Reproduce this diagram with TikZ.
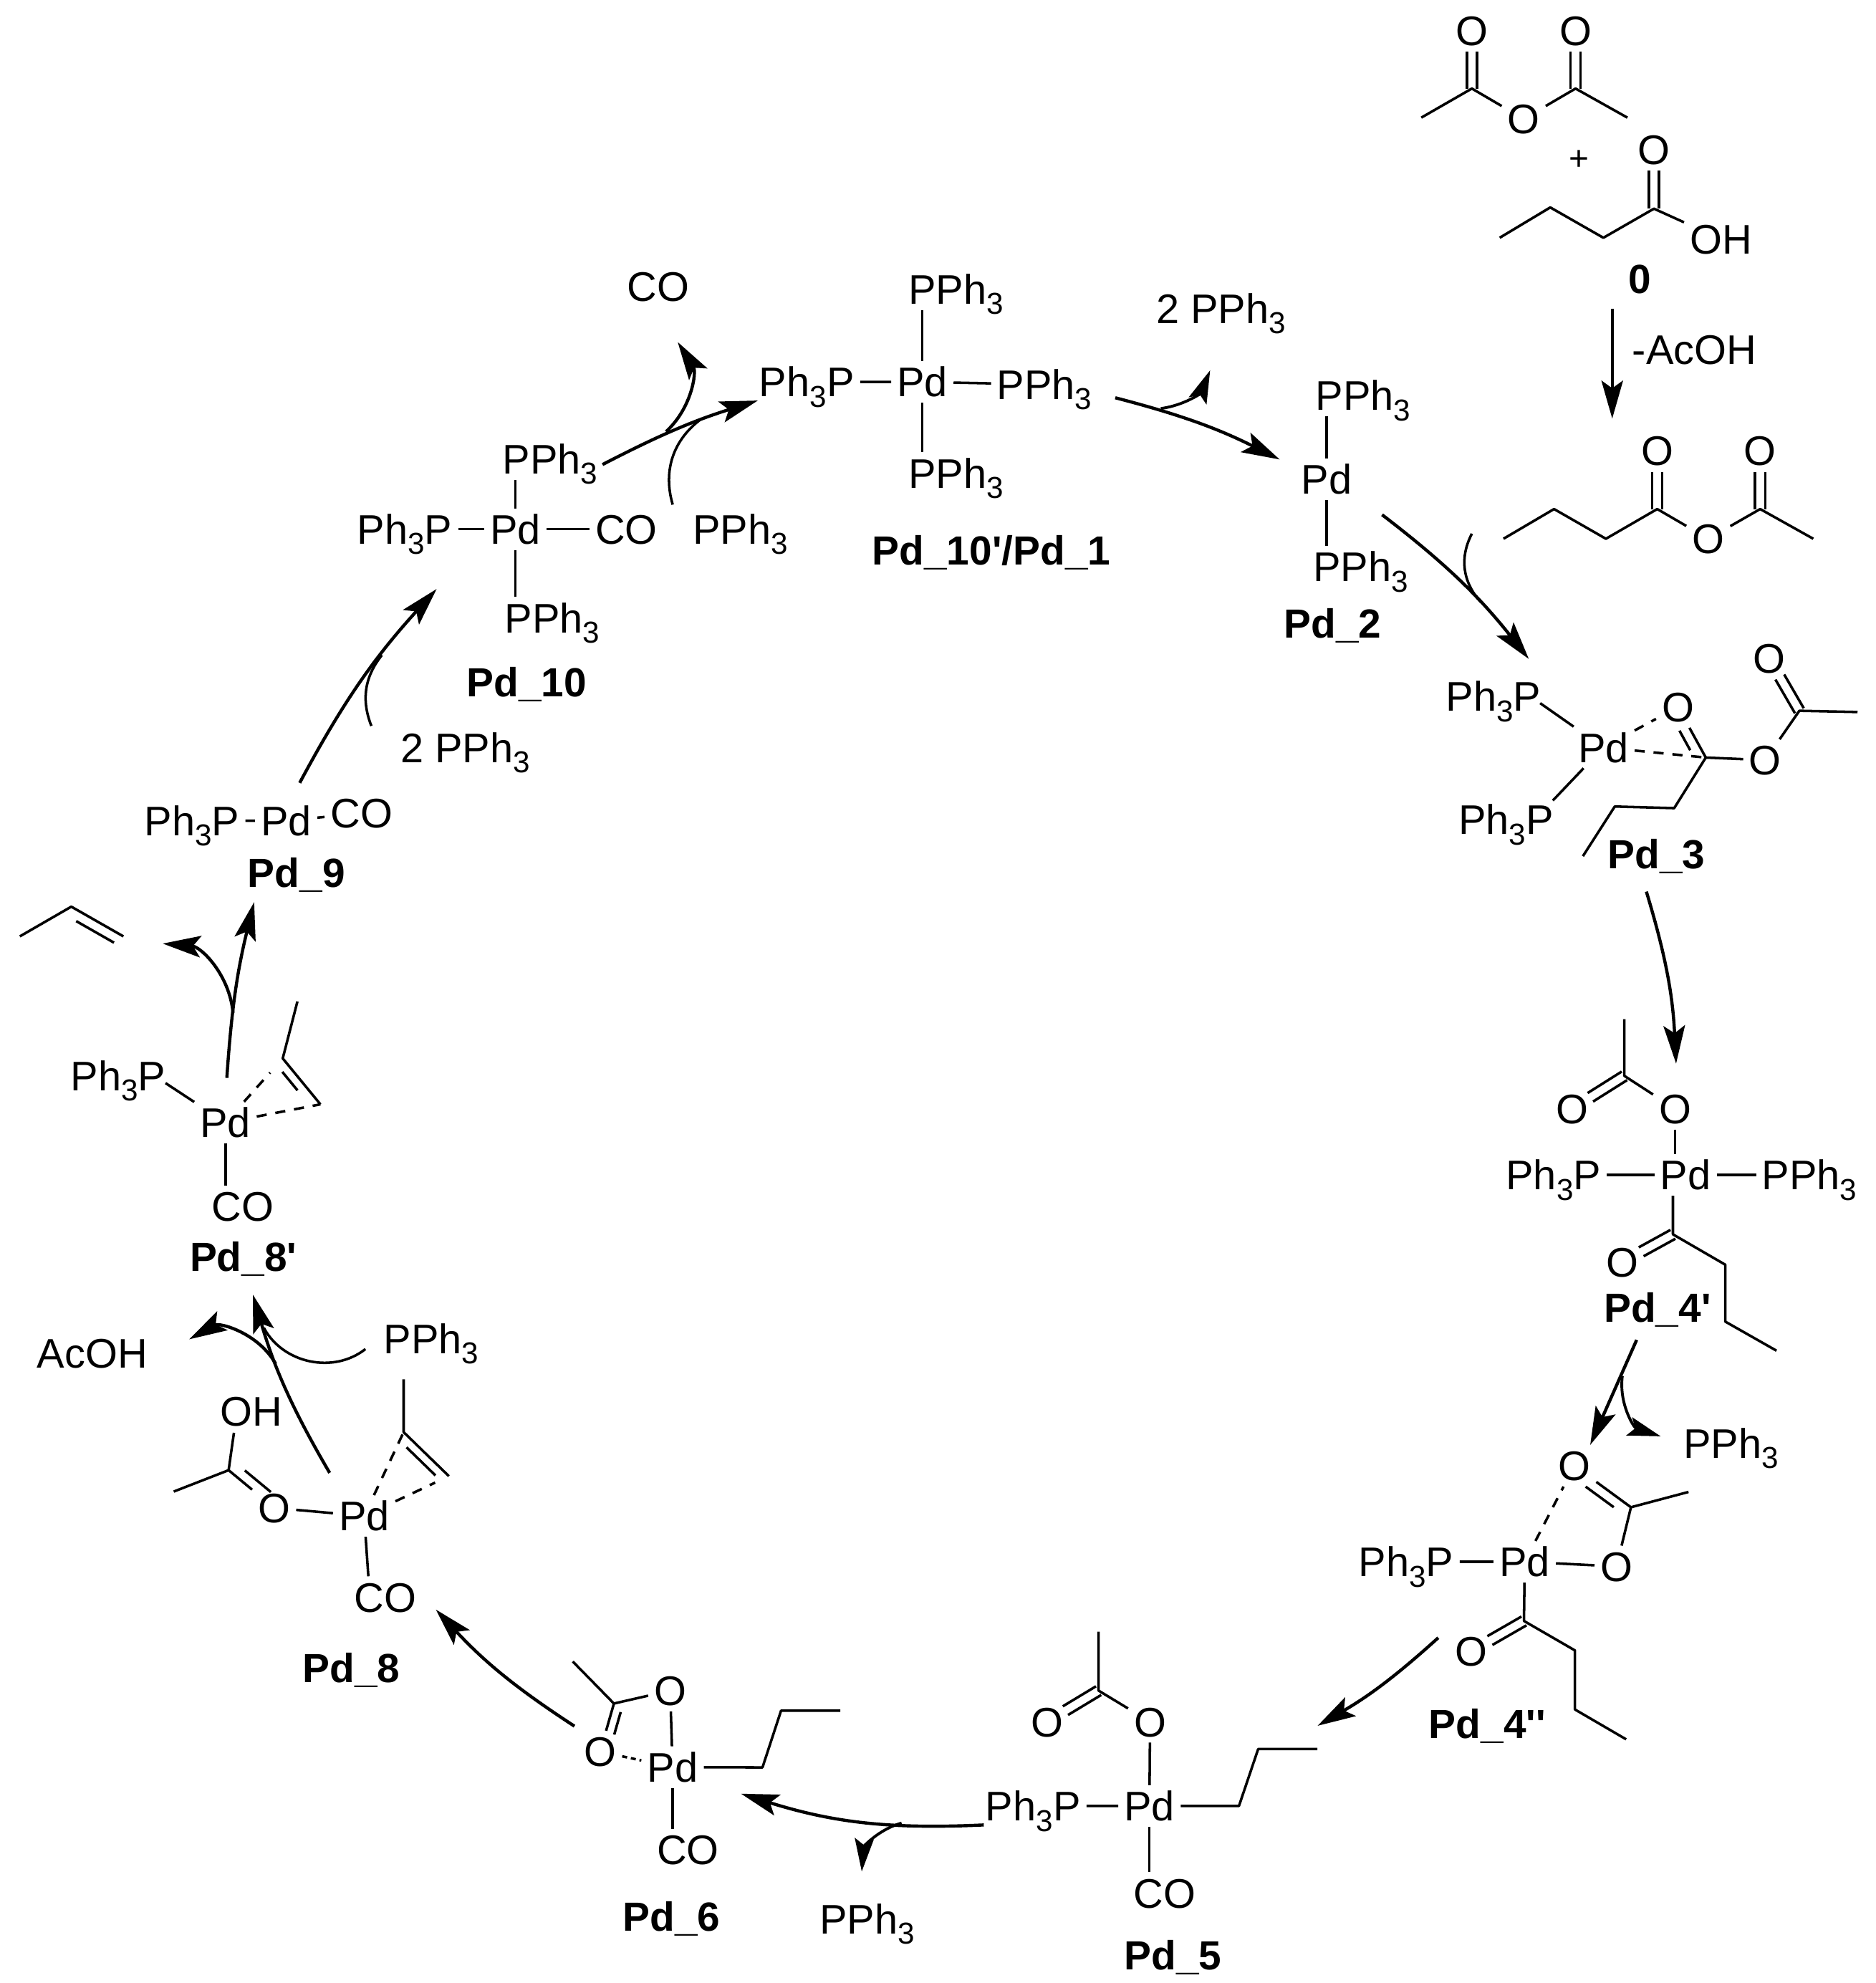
\documentclass[tikz,border=0pt]{standalone}
\usepackage{fontspec}
\setmainfont{Liberation Sans}
\usetikzlibrary{arrows.meta,calc}
\newcommand{\lowthree}{\raisebox{-0.25em}{\fontsize{6.8}{6.8}\selectfont 3}}
\newcommand{\phend}{PPh\lowthree}
\newcommand{\phstart}{Ph\lowthree P}
\newcommand{\prm}{\textquotesingle}
\newcommand{\dbond}[4][]{\draw[bond,#1] ($(#2)!#4!90:(#3)$) -- ($(#3)!#4!-90:(#2)$);}
\newcommand{\dbl}[2]{\dbond[shorten >=0.17cm]{#1}{#2}{0.04cm}\dbond[shorten >=0.17cm]{#1}{#2}{-0.04cm}}
\tikzset{
  atom/.style={font=\fontsize{9.3}{9.3}\selectfont,inner sep=0.04cm,text height=0.235cm,text depth=0pt},
  tag/.style={atom,font=\fontsize{9.15}{9.15}\selectfont\bfseries},
  bond/.style={line width=0.02cm,line join=round},
  dashb/.style={bond,dash pattern=on 0.08cm off 0.07cm},
  arrm/.style={line width=0.025cm,-{Stealth[length=0.3cm,width=0.17cm,inset=0.06cm]}},
  arrb/.style={line width=0.022cm,-{Stealth[length=0.26cm,width=0.15cm,inset=0.05cm]}},
  hook/.style={line width=0.02cm}
}
\begin{document}
\begin{tikzpicture}[x=0.01cm,y=-0.01cm]
  \useasboundingbox (0,0) rectangle (1483.6,1568);
  \foreach \n/\x/\y in {oa/1164/24,ob/1246/24,oc/1205/94,od/1308/118,oe/1310.6/356,of/1392/356,og/1351/426,
    o3a/1327/559,o3b/1396/601,o3c/1399/520.6,o4a/1243.3/876.7,o4b/1324.7/876.7,o4c/1283/998,
    oqa/1245/1159,oqb/1278.4/1238.6,oqc/1163.5/1305.7,o5a/828/1361.4,o5b/909.5/1361.4,
    o6a/530/1336.8,o6b/474.6/1385,o8/216.8/1192.3} {
    \node[atom] (\n) at (\x,\y) {O};
  }
  \foreach \n/\x/\y in {pda/729.4/302,pdb/1049/379,pdc/1268/591,pdd/1333/929,pde/1205.8/1234.9,pdf/909/1428,
    pdg/531.9/1397.3,pdh/288/1198.7,pdi/178.3/887.6,pdj/226.3/649,pdk/407.5/418.4} {
    \node[atom] (\n) at (\x,\y) {Pd};
  }
  \foreach \n/\x/\y in {pa1/756/228.7,pa2/756/374,pa3/826/304,pb1/1078/312.7,pb2/1076/448,pd1/1431/929,
    pk1/435/362.8,pk2/436.7/488.5,fr1/585.6/418.4,fr2/1369/1141,fr3/685.8/1517.4,fr4/341/1058.4} {
    \node[atom] (\n) at (\x,\y) {\phend};
  }
  \foreach \n/\x/\y in {qa/638/302,qc1/1181/550.5,qc2/1191/648,qd/1228.5/929,qe/1112.1/1234.9,qf/817/1428,
    qi/93.5/850.5,qj/151.8/649,qk/320/418.4} {
    \node[atom] (\n) at (\x,\y) {\phstart};
  }
  \foreach \n/\x/\y in {cof/921/1496.8,cog/544/1462.4,coh/304.9/1262.8,coi/191.9/954,coj/285.9/643,cok/495.3/418.4,cox/520.6/226.7} {
    \node[atom] (\n) at (\x,\y) {CO};
  }
  \node[atom] (oha) at (1361,189) {OH};
  \node[atom] (ohb) at (198.6,1116) {OH};
  \node[atom] (aca) at (1340,276) {-AcOH};
  \node[atom] (acb) at (73,1070) {AcOH};
  \node[atom] (twa) at (965.7,243.8) {2 \phend};
  \node[atom] (twb) at (368,591) {2 \phend};
  \node[atom,font=\fontsize{7.7}{7.7}\selectfont] (plus) at (1249,123) {+};
  \foreach \n/\x/\y/\t in {t0/1297/220/0,t1/784/435/{Pd\_10\prm/Pd\_1},t2/1054/492.7/Pd\_2,t3/1310/675/Pd\_3,
    t4a/1310.8/1033.7/Pd\_4\prm,t4b/1176.2/1362.6/Pd\_4\prm\prm,t5/927.7/1546/Pd\_5,t6/531/1515.3/Pd\_6,
    t8a/277.8/1318.7/Pd\_8,t8b/192.4/993.3/Pd\_8\prm,t9/234.4/689.8/Pd\_9,t10/416.5/539/Pd\_10} {
    \node[tag] (\n) at (\x,\y) {\t};
  }
  \foreach \n/\x/\y in {ma/1124/93,ca/1164/70,cb/1246/70,mb/1287/93,ba/1186/188,bb/1226/164,bc/1268/188,bd/1308/165,
    ea/1189/426,eb/1229/402.5,ec/1270/426,ed/1310.6/402.5,ee/1392/402.5,ef/1434/426,
    c3a/1349/599,c3b/1324/639,c3c/1277/637.7,c3d/1251.8/677,c3e/1423/562,c3f/1469/563,e3a/1218/556,e3b/1228/633,
    c4a/1284.6/805.8,c4b/1284.6/850.7,c4c/1323/976,c4d/1364.4/1000,c4e/1364.4/1045,c4f/1404.9/1068,
    cqa/1289.8/1191.8,cqb/1335.3/1179.7,cqc/1205.2/1281.7,cqd/1245.5/1305,cqe/1245.5/1351.7,cqf/1286/1375.3,
    c5a/868.8/1290.2,c5b/868.8/1336.8,c5c/979.8/1428,c5d/995/1383,c5e/1041.8/1383,
    c6a/453/1313.8,c6b/485.5/1347,c6c/603/1397.5,c6d/617.7/1352.6,c6e/664.6/1352.6,
    c8a/137.4/1179.4,c8b/180.8/1162.5,c8c/319.2/1090.6,c8d/319.2/1132.4,c8e/355/1167.2,e8a/291.3/1246.4,e8b/185/1132.9,
    c9a/235.2/791.9,c9b/223.6/836.9,c9c/253.4/873.2,e9a/130.9/856.4,ga/15.7/740.4,gb/56.4/716.9,gc/97.6/740.4} {
    \coordinate (\n) at (\x,\y);
  }
  \draw[bond] (ma) -- (ca) -- (oc) -- (cb) -- (mb);
  \dbl{ca}{oa}
  \dbl{cb}{ob}
  \draw[bond] (ba) -- (bb) -- (bc) -- (bd) -- (oha);
  \dbl{bd}{od}
  \draw[bond] (ea) -- (eb) -- (ec) -- (ed) -- (og) -- (ee) -- (ef);
  \dbl{ed}{oe}
  \dbl{ee}{of}
  \draw[bond] (pda) -- (pda |- pa1.south);
  \draw[bond] (pda) -- (pda |- pa2.north);
  \draw[bond] (qa) -- (pda) -- (pa3);
  \draw[bond] (pdb) -- (pdb |- pb1.south);
  \draw[bond] (pdb) -- (pdb |- pb2.north);
  \draw[bond] (e3a) -- (pdc) -- (e3b);
  \draw[dashb] (pdc) -- (o3a);
  \draw[dashb] (pdc) -- (c3a);
  \draw[bond] (o3a) -- (c3a) -- (o3b) -- (c3e) -- (c3f);
  \draw[bond] (c3a) -- (c3b) -- (c3c) -- (c3d);
  \dbond[shorten <=0.11cm,shorten >=0.17cm]{c3a}{o3a}{0.08cm}
  \dbl{c3e}{o3c}
  \draw[bond] (c4a) -- (c4b) -- (o4b);
  \dbl{c4b}{o4a}
  \draw[bond] (o4b) -- (o4b |- pdd.north);
  \draw[bond] (qd) -- (pdd) -- (pd1);
  \draw[bond] (pdd.south -| c4c) -- (c4c) -- (c4d) -- (c4e) -- (c4f);
  \dbl{c4c}{o4c}
  \draw[dashb] (pde) -- (oqa);
  \draw[bond] (qe) -- (pde) -- (oqb) -- (cqa) -- (oqa);
  \draw[bond] (cqa) -- (cqb);
  \dbond[shorten <=0.11cm,shorten >=0.17cm]{cqa}{oqa}{0.08cm}
  \draw[bond] (pde) -- (cqc) -- (cqd) -- (cqe) -- (cqf);
  \dbl{cqc}{oqc}
  \draw[bond] (c5a) -- (c5b) -- (o5b) -- (pdf);
  \dbl{c5b}{o5a}
  \draw[bond] (qf) -- (pdf) -- (c5c) -- (c5d) -- (c5e);
  \draw[bond] (pdf) -- (pdf |- cof.north);
  \draw[bond] (c6a) -- (c6b) -- (o6a) -- (pdg) -- (c6c) -- (c6d) -- (c6e);
  \draw[bond] (c6b) -- (o6b);
  \dbond[shorten <=0.05cm,shorten >=0.16cm]{c6b}{o6b}{0.07cm}
  \draw[dashb,dash pattern=on 0.04cm off 0.03cm] (o6b) -- (pdg);
  \draw[bond] (pdg) -- (pdg |- cog.north);
  \draw[bond] (c8a) -- (c8b) -- (o8) -- (pdh) -- (e8a);
  \draw[bond] (c8b) -- (e8b);
  \dbond[shorten <=0.1cm,shorten >=0.1cm]{c8b}{o8}{0.08cm}
  \draw[bond] (c8c) -- (c8d) -- (c8e);
  \dbond[shorten <=0.1cm,shorten >=0.08cm]{c8d}{c8e}{-0.07cm}
  \draw[dashb] (pdh) -- (c8d);
  \draw[dashb,shorten >=0.12cm] (pdh) -- (c8e);
  \draw[bond] (e9a) -- (pdi);
  \draw[bond] (pdi) -- (pdi |- coi.north);
  \draw[bond] (c9a) -- (c9b) -- (c9c);
  \dbond[shorten <=0.08cm,shorten >=0.2cm]{c9b}{c9c}{-0.07cm}
  \draw[dashb,shorten >=0.15cm] (pdi) -- (c9b);
  \draw[dashb] (pdi) -- (c9c);
  \draw[bond] (ga) -- (gb) -- (gc);
  \dbond[shorten <=0.09cm,shorten >=0.04cm]{gb}{gc}{-0.08cm}
  \draw[bond] (qj) -- (pdj) -- (coj);
  \draw[bond] (qk) -- (pdk) -- (cok);
  \draw[bond] (pdk) -- (pdk |- pk1.south);
  \draw[bond] (pdk) -- (pdk |- pk2.north);
  \foreach \n/\a/\b/\c/\d/\k/\g in {1/1275/244/1275/331/arrm/0,2/1093/407/1209/521/arrm/7,3/1164/422/1171/476/hook/-35,
    4/1302/705/1325.5/841/arrm/7,5/1294.3/1059.5/1257.6/1142.5/arrm/0,6/1283/1088/1313.3/1135.7/arrb/-40,
    7/1137.4/1295/1042/1364.6/arrm/6,8/778/1443/586/1418.3/arrm/10,9/713/1441.5/681.5/1479.8/arrb/-35,
    10/454.3/1364.9/344.7/1272.7/arrm/7,11/260.7/1164.6/200/1023.7/arrm/7,12/218/1078.4/149.6/1059/arrm/-45,
    13/289/1066.7/208.7/1050/hook/50,14/179.4/852.3/201/713.3/arrm/5,15/184.3/800.9/128.7/746.1/arrm/-40,
    16/237/619/345.3/465.7/arrm/7,17/293.7/574/302/518/hook/30,18/476.5/367.3/599.3/316.7/arrm/5,
    19/526.7/341.3/536/270.5/arrm/-40,20/532/399/554.9/331/hook/35,21/882/314.5/1012/363.3/arrm/6,22/918/323/957/292.8/arrb/-30} {
    \coordinate (s\n) at (\a,\b);
    \coordinate (e\n) at (\c,\d);
    \draw[\k] (s\n) to[bend left=\g] (e\n);
  }
\end{tikzpicture}
\end{document}
